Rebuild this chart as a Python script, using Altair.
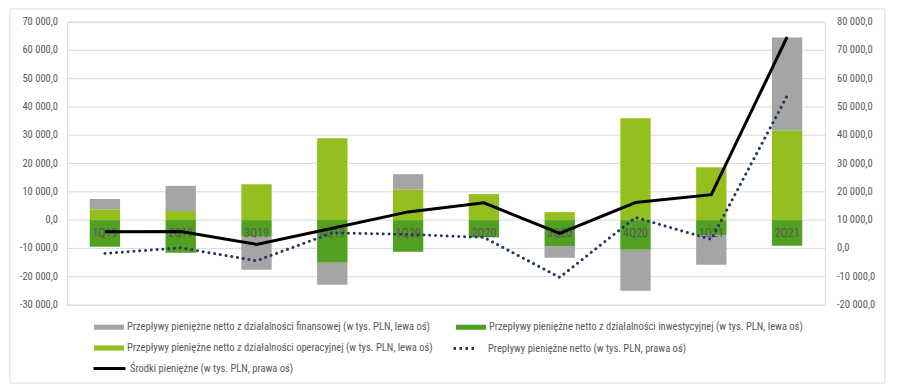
import altair as alt
import pandas as pd

categories = ["1Q19", "2Q19", "3Q19", "4Q19", "1Q20", "2Q20", "3Q20", "4Q20", "1Q21", "2Q21"]

S_FIN = "Przepływy pieniężne netto z działalności finansowej (w tys. PLN, lewa oś)"
S_INV = "Przepływy pieniężne netto z działalności inwestycyjnej (w tys. PLN, lewa oś)"
S_OP = "Przepływy pieniężne  netto z działalności operacyjnej (w tys. PLN, lewa oś)"
S_NET = "Prepływy pieniężne netto (w tys. PLN, prawa oś)"
S_SRO = "Środki pieniężne (w tys. PLN, prawa oś)"

# left axis (stacked bars)
fin = [3650, 8900, -11650, -7770, 5400, 0, -4130, -14470, -10470, 32730]
inv = [-9400, -11550, -5900, -15070, -11200, -6100, -9180, -10480, -5300, -9070]
op = [3800, 3200, 12700, 28950, 10830, 9180, 2820, 36000, 18700, 31770]
# right axis (lines)
netto = [-1770, 200, -4380, 5500, 4940, 3880, -10240, 10940, 3180, 53900]
srodki = [5860, 6000, 1400, 7100, 12900, 16100, 5300, 16200, 19000, 74700]

left_ticks = [-30000, -20000, -10000, 0, 10000, 20000, 30000, 40000, 50000, 60000, 70000]
right_ticks = [-20000, -10000, 0, 10000, 20000, 30000, 40000, 50000, 60000, 70000, 80000]

C_FIN, C_INV, C_OP = "#A5A5A5", "#52A021", "#93C01F"
C_NET, C_SRO = "#1F3864", "#000000"

rows = []
for i, c in enumerate(categories):
    rows.append({"q": c, "series": S_OP, "value": op[i], "ord": 0})
    rows.append({"q": c, "series": S_INV, "value": inv[i], "ord": 1})
    rows.append({"q": c, "series": S_FIN, "value": fin[i], "ord": 2})
bars_df = pd.DataFrame(rows)

lrows = []
for i, c in enumerate(categories):
    lrows.append({"q": c, "series": S_NET, "value": netto[i]})
    lrows.append({"q": c, "series": S_SRO, "value": srodki[i]})
lines_df = pd.DataFrame(lrows)

FONT = "Liberation Sans Narrow, Arial Narrow, Roboto Condensed, sans-serif"
GRAY_TXT = "#595959"
LBL = ("replace(replace(replace(format(datum.t, ',.1f'), ',', ' '), '.', ','), '\u2212', '-')")

x = alt.X("q:N", sort=categories,
          scale=alt.Scale(paddingInner=0.6, paddingOuter=0.3), axis=None)

left_scale = alt.Scale(domain=[-30000, 70000], nice=False, zero=False)
right_scale = alt.Scale(domain=[-20000, 80000], nice=False, zero=False)

frame = alt.Chart(pd.DataFrame({"a": [0]})).mark_rect(
    fill=None, stroke="#D9D9D9", strokeWidth=1
).encode(x=alt.value(-57), x2=alt.value(818), y=alt.value(-13), y2=alt.value(361))

lt_df = pd.DataFrame({"t": left_ticks})
grid = alt.Chart(lt_df).mark_rule(color="#D9D9D9", strokeWidth=1).encode(
    y=alt.Y("t:Q", scale=left_scale, axis=None)
)
left_labels = alt.Chart(lt_df).transform_calculate(lab=LBL).mark_text(
    align="right", baseline="middle", font=FONT, fontSize=10.5, color=GRAY_TXT
).encode(x=alt.value(-9), y=alt.Y("t:Q", scale=left_scale, axis=None), text="lab:N")

bars = alt.Chart(bars_df).mark_bar(opacity=1).encode(
    x=x,
    y=alt.Y("value:Q", stack="zero", scale=left_scale, axis=None),
    order=alt.Order("ord:Q"),
    color=alt.Color(
        "series:N",
        scale=alt.Scale(domain=[S_FIN, S_INV, S_OP], range=[C_FIN, C_INV, C_OP]),
        legend=alt.Legend(
            title=None, orient="none", legendX=27, legendY=290, columns=2,
            direction="horizontal", columnPadding=20, rowPadding=-10,
            symbolType="M-1,-0.17H1V0.17H-1Z", symbolSize=900, symbolStrokeWidth=0,
            labelFont=FONT, labelFontSize=10.5, labelColor=GRAY_TXT, labelOffset=3,
            labelLimit=0,
        ),
    ),
)

labels = alt.Chart(pd.DataFrame({"q": categories, "zero": [0] * len(categories)})).mark_text(
    dy=13, baseline="middle", font=FONT, fontSize=12, color=GRAY_TXT
).encode(x=x, y=alt.Y("zero:Q", scale=left_scale, axis=None), text="q:N")

bars_group = alt.layer(frame, grid, left_labels, bars, labels)

rt_df = pd.DataFrame({"t": right_ticks})
right_labels = alt.Chart(rt_df).transform_calculate(lab=LBL).mark_text(
    align="left", baseline="middle", font=FONT, fontSize=10.5, color=GRAY_TXT
).encode(x=alt.value(770), y=alt.Y("t:Q", scale=right_scale, axis=None), text="lab:N")

dotted = alt.Chart(lines_df).transform_filter(
    alt.datum.series == S_NET
).mark_line(strokeDash=[0.01, 5.8], strokeCap="round", strokeWidth=3).encode(
    x=x, y=alt.Y("value:Q", scale=right_scale, axis=None),
    color=alt.Color(
        "series:N", scale=alt.Scale(domain=[S_NET], range=[C_NET]),
        legend=alt.Legend(
            title=None, orient="none", legendX=385, legendY=314.5,
            symbolType="stroke", symbolSize=441, symbolStrokeWidth=3,
            symbolDash=[2.5, 3.5], labelFont=FONT, labelFontSize=10.5,
            labelColor=GRAY_TXT, labelOffset=12, labelLimit=0,
        ),
    ),
)

black = alt.Chart(lines_df).transform_filter(
    alt.datum.series == S_SRO
).mark_line(strokeWidth=3).encode(
    x=x, y=alt.Y("value:Q", scale=right_scale, axis=None),
    color=alt.Color(
        "series:N", scale=alt.Scale(domain=[S_SRO], range=[C_SRO]),
        legend=alt.Legend(
            title=None, orient="none", legendX=25, legendY=329,
            symbolType="stroke", symbolSize=1024, symbolStrokeWidth=3,
            labelFont=FONT, labelFontSize=10.5, labelColor=GRAY_TXT,
            labelOffset=3, labelLimit=0,
        ),
    ),
)

lines_group = alt.layer(right_labels, dotted, black).resolve_scale(color="independent")

chart = alt.layer(bars_group, lines_group).resolve_scale(
    y="independent", color="independent"
).properties(
    width=758, height=283,
    autosize=alt.AutoSizeParams(type="none"),
    padding={"left": 59, "top": 14, "right": 62, "bottom": 82},
).configure_view(stroke=None).configure(background="white")

chart.save("out.html", embed_options={"renderer": "svg", "actions": False})
